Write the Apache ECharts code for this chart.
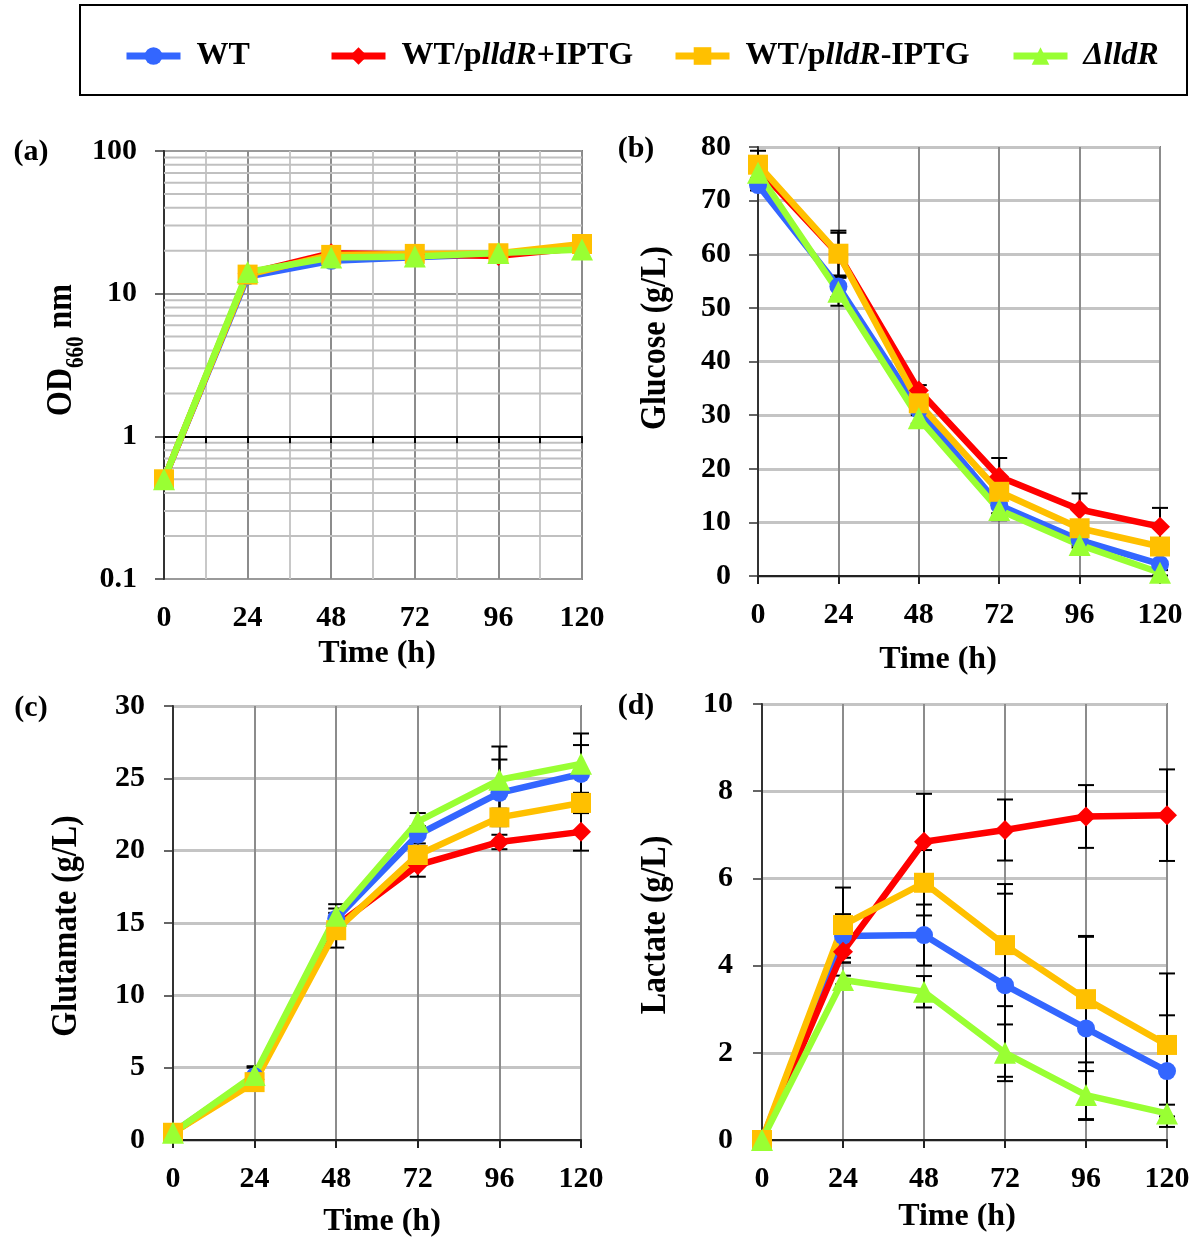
<!DOCTYPE html>
<html>
<head>
<meta charset="utf-8">
<script src="https://cdn.jsdelivr.net/npm/echarts@6/dist/echarts.min.js"></script>
<style>
  html, body { margin: 0; padding: 0; background: #fff; }
  #chart { width: 1194px; height: 1239px; }
</style>
</head>
<body>
<div id="chart"></div>
<script>
const FONT = '"Liberation Serif", "Times New Roman", serif';

// Sampling times (h)
const hours = [0, 24, 48, 72, 96, 120];

// Strains
const strainNames = ['WT', 'WT/plldR+IPTG', 'WT/plldR-IPTG', 'ΔlldR'];

// (a) OD660 nm
const odWT    = [0.5, 13.2, 17.0, 18.0, 19.0, 21.0];
const odPlus  = [0.5, 13.8, 19.2, 18.8, 18.4, 21.0];
const odMinus = [0.5, 13.6, 18.7, 19.0, 19.2, 22.3];
const odDel   = [0.5, 14.2, 17.9, 18.2, 19.3, 20.4];

// (b) Glucose (g/L) and standard deviations
const gluWT    = [72.9, 54.0, 31.0, 13.2, 6.7, 2.2];
const gluPlus  = [76.0, 60.0, 34.6, 18.5, 12.4, 9.2];
const gluMinus = [76.7, 60.1, 32.2, 15.7, 8.9, 5.5];
const gluDel   = [75.2, 53.0, 29.4, 12.3, 5.8, 0.6];
const gluErrWT    = [1.0, 2.0, 1.0, 1.5, 1.0, 0.5];
const gluErrPlus  = [2.0, 4.0, 1.0, 3.5, 3.0, 3.5];
const gluErrMinus = [2.6, 4.3, 1.5, 1.5, 1.0, 1.0];
const gluErrDel   = [1.0, 2.6, 1.0, 1.9, 0.5, 0.5];

// (c) Glutamate (g/L) and standard deviations
const gltWT    = [0.5, 4.4, 15.3, 21.1, 24.0, 25.3];
const gltPlus  = [0.5, 4.2, 14.8, 19.0, 20.6, 21.3];
const gltMinus = [0.5, 4.0, 14.5, 19.7, 22.3, 23.3];
const gltDel   = [0.5, 4.5, 15.5, 22.0, 24.9, 26.0];
const gltErrWT    = [0, 0.7, 1.0, 0.6, 2.3, 2.0];
const gltErrPlus  = [0, 0.3, 0.5, 0.8, 0.5, 1.3];
const gltErrMinus = [0, 0.3, 1.2, 0.5, 0.6, 0.7];
const gltErrDel   = [0, 0.5, 0.5, 0.6, 2.3, 2.1];

// (d) Lactate (g/L) and standard deviations
const lacWT    = [0, 4.68, 4.70, 3.55, 2.56, 1.58];
const lacPlus  = [0, 4.32, 6.84, 7.11, 7.42, 7.45];
const lacMinus = [0, 4.93, 5.90, 4.47, 3.23, 2.18];
const lacDel   = [0, 3.67, 3.40, 2.00, 1.03, 0.61];
const lacErrWT    = [0, 0.50, 0.70, 2.10, 2.10, 1.28];
const lacErrPlus  = [0, 0.25, 1.10, 0.70, 0.72, 1.05];
const lacErrMinus = [0, 0.86, 0.75, 1.40, 1.45, 1.64];
const lacErrDel   = [0, 0.10, 0.36, 0.65, 0.55, 0.20];

// Log-scale minor grid values for panel (a)
const odMinorLines = [0.2, 0.3, 0.4, 0.5, 0.6, 0.7, 0.8, 0.9,
                      2, 3, 4, 5, 6, 7, 8, 9,
                      20, 30, 40, 50, 60, 70, 80, 90];

// Styling per strain
const strainColors  = ['#3366ff', '#ff0000', '#ffc000', '#99ff33'];
const strainSymbols = ['circle', 'diamond', 'rect', 'triangle'];
const strainSizes   = [18, 20, 20, 22];

const panels = [
  { values: [odWT, odPlus, odMinus, odDel], errors: null },
  { values: [gluWT, gluPlus, gluMinus, gluDel], errors: [gluErrWT, gluErrPlus, gluErrMinus, gluErrDel] },
  { values: [gltWT, gltPlus, gltMinus, gltDel], errors: [gltErrWT, gltErrPlus, gltErrMinus, gltErrDel] },
  { values: [lacWT, lacPlus, lacMinus, lacDel], errors: [lacErrWT, lacErrPlus, lacErrMinus, lacErrDel] }
];

const grids = [
  { left: 164, top: 151, width: 418, height: 428 },
  { left: 758, top: 147, width: 402, height: 429 },
  { left: 173, top: 706, width: 408, height: 434 },
  { left: 762, top: 704, width: 405, height: 436 }
];

const tickFont = { fontFamily: FONT, fontWeight: 'bold', fontSize: 30, color: '#000' };

// ----- axes -----
const xAxes = grids.map((g, p) => {
  if (p === 0) {
    return {
      type: 'value', gridIndex: 0, min: 0, max: 120, interval: 12,
      axisLine: { show: false }, axisTick: { show: false },
      axisLabel: Object.assign({ margin: 24, formatter: v => (v % 24 === 0 ? String(v) : '') }, tickFont),
      splitLine: { show: true, lineStyle: { color: ['#8c8c8c', '#c8c8c8'], width: 2 } }
    };
  }
  return {
    type: 'value', gridIndex: p, min: 0, max: 120, interval: 24,
    axisLine: { show: true, onZero: false, lineStyle: { color: '#222', width: 2 } },
    axisTick: { show: true, length: 8, lineStyle: { color: '#222', width: 2 } },
    axisLabel: Object.assign({ margin: 24 }, tickFont),
    splitLine: { show: true, lineStyle: { color: '#8c8c8c', width: 2 } }
  };
});
// Panel (a): the time axis crosses the OD axis at 1
xAxes.push({
  type: 'value', gridIndex: 0, min: 0, max: 120, interval: 12, position: 'bottom',
  offset: -grids[0].height / 3, z: 3,
  axisLine: { show: true, onZero: false, lineStyle: { color: '#000', width: 2 } },
  axisTick: { show: true, length: 7, lineStyle: { color: '#000', width: 2 } },
  axisLabel: { show: false }, splitLine: { show: false }
});

const yRanges = [null, [0, 80, 10], [0, 30, 5], [0, 10, 2]];
const yMargins = [27, 27, 28, 29];
const yAxes = grids.map((g, p) => {
  const common = {
    gridIndex: p,
    axisLine: { show: true, onZero: false, lineStyle: { color: '#333', width: 2 } },
    axisTick: { show: true, length: 9, lineStyle: { color: '#333', width: 1.5 } },
    axisLabel: Object.assign({ margin: yMargins[p] }, tickFont)
  };
  if (p === 0) {
    return Object.assign(common, {
      type: 'log', logBase: 10, min: 0.1, max: 100,
      splitLine: { show: true, lineStyle: { color: '#9a9a9a', width: 2 } }
    });
  }
  return Object.assign(common, {
    type: 'value', min: yRanges[p][0], max: yRanges[p][1], interval: yRanges[p][2],
    splitLine: { show: true, lineStyle: { color: '#c4c4c4', width: 3 } }
  });
});

// ----- series -----
const series = [];

// minor log gridlines for panel (a)
series.push({
  type: 'custom', xAxisIndex: 0, yAxisIndex: 0, z: 1, silent: true,
  data: odMinorLines.map(v => [v]),
  encode: { y: 0 },
  renderItem(params, api) {
    const v = api.value(0);
    const a = api.coord([0, v]);
    const b = api.coord([120, v]);
    return { type: 'line', shape: { x1: a[0], y1: a[1], x2: b[0], y2: b[1] },
             style: { stroke: '#c0c0c0', lineWidth: 2 } };
  }
});

panels.forEach((panel, p) => {
  if (panel.errors) {
    const data = [];
    panel.values.forEach((arr, s) => arr.forEach((v, i) => {
      const e = panel.errors[s][i];
      if (e > 0) data.push([hours[i], v - e, v + e]);
    }));
    series.push({
      type: 'custom', xAxisIndex: p, yAxisIndex: p, z: 2, silent: true, clip: false,
      data, encode: { x: 0, y: [1, 2] },
      renderItem(params, api) {
        const x = api.value(0);
        const lo = api.coord([x, api.value(1)]);
        const hi = api.coord([x, api.value(2)]);
        const w = 8;
        const st = { stroke: '#000', lineWidth: 2 };
        return { type: 'group', children: [
          { type: 'line', shape: { x1: lo[0], y1: lo[1], x2: hi[0], y2: hi[1] }, style: st },
          { type: 'line', shape: { x1: lo[0] - w, y1: lo[1], x2: lo[0] + w, y2: lo[1] }, style: st },
          { type: 'line', shape: { x1: hi[0] - w, y1: hi[1], x2: hi[0] + w, y2: hi[1] }, style: st }
        ] };
      }
    });
  }
  panel.values.forEach((arr, s) => {
    series.push({
      type: 'line', name: strainNames[s], xAxisIndex: p, yAxisIndex: p, z: 4,
      data: hours.map((h, i) => [h, arr[i]]),
      clip: false,
      symbol: strainSymbols[s], symbolSize: strainSizes[s], showSymbol: true,
      lineStyle: { color: strainColors[s], width: 6.5 },
      itemStyle: { color: strainColors[s] },
      emphasis: { disabled: true }
    });
  });
});

// ----- legend -----
const legendLefts = [123, 328, 672, 1010];
const legendLabels = {
  'WT': '{b|WT}',
  'WT/plldR+IPTG': '{b|WT/p}{i|lldR}{b|+IPTG}',
  'WT/plldR-IPTG': '{b|WT/p}{i|lldR}{b|-IPTG}',
  'ΔlldR': '{i|ΔlldR}'
};
const legendRich = {
  b: { fontFamily: FONT, fontWeight: 'bold', fontSize: 32, color: '#000' },
  i: { fontFamily: FONT, fontWeight: 'bold', fontStyle: 'italic', fontSize: 32, color: '#000' }
};
const legends = strainNames.map((n, k) => ({
  data: [n], left: legendLefts[k], top: 40, padding: 0, itemGap: 0,
  itemWidth: 54, itemHeight: 22, selectedMode: false,
  lineStyle: { width: 7 },
  formatter: name => legendLabels[name],
  textStyle: { fontFamily: FONT, fontWeight: 'bold', fontSize: 32, color: '#000',
               padding: [0, 0, 0, 11], rich: legendRich }
}));

// ----- titles and panel letters -----
const titleRich = {
  b: { fontFamily: FONT, fontWeight: 'bold', fontSize: 32, fill: '#000', lineHeight: 40, verticalAlign: 'top' },
  s: { fontFamily: FONT, fontWeight: 'bold', fontSize: 21, fill: '#000', lineHeight: 20, verticalAlign: 'bottom' }
};
function textEl(text, x, y, opts) {
  opts = opts || {};
  return {
    type: 'text', x, y, rotation: opts.rotation || 0, silent: true,
    scaleX: opts.scaleX || 1, scaleY: opts.scaleY || 1,
    style: {
      text, fill: '#000', fontFamily: FONT, fontWeight: 'bold', fontSize: opts.fontSize || 32,
      textAlign: 'center', textVerticalAlign: 'middle', align: 'center', verticalAlign: 'middle',
      rich: titleRich
    }
  };
}
const graphic = [
  { type: 'rect', shape: { x: 80, y: 5, width: 1107, height: 90 }, silent: true,
    style: { fill: 'none', stroke: '#000', lineWidth: 2 } },
  textEl('(a)', 31, 152, { fontSize: 30 }),
  textEl('(b)', 636, 149, { fontSize: 30 }),
  textEl('(c)', 31, 708, { fontSize: 30 }),
  textEl('(d)', 636, 706, { fontSize: 30 }),
  textEl('{b|OD}{s|660}{b| nm}', 66, 350, { rotation: Math.PI / 2, scaleY: 1.15 }),
  textEl('Glucose (g/L)', 655, 338, { rotation: Math.PI / 2, scaleY: 1.15 }),
  textEl('Glutamate (g/L)', 66, 926, { rotation: Math.PI / 2, scaleY: 1.15 }),
  textEl('Lactate (g/L)', 655, 925, { rotation: Math.PI / 2, scaleY: 1.15 }),
  textEl('Time (h)', 377, 654),
  textEl('Time (h)', 938, 660),
  textEl('Time (h)', 382, 1222),
  textEl('Time (h)', 957, 1217)
];

const chart = echarts.init(document.getElementById('chart'), null, { renderer: 'canvas' });
chart.setOption({
  animation: false,
  backgroundColor: '#fff',
  grid: grids.map(g => Object.assign({ show: true, borderColor: '#808080', borderWidth: 2, containLabel: false }, g)),
  xAxis: xAxes,
  yAxis: yAxes,
  legend: legends,
  graphic,
  series
});
</script>
</body>
</html>
